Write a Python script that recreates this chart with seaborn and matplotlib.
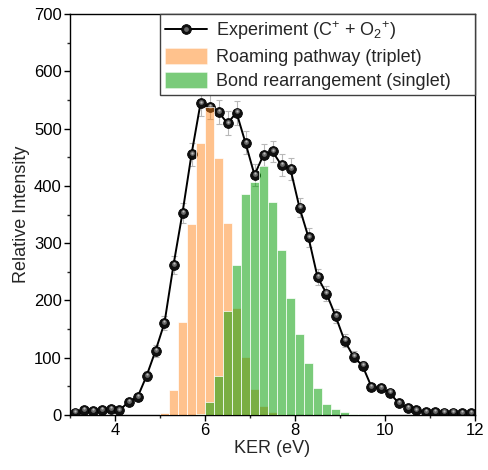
import numpy as np
import pandas as pd
import matplotlib
matplotlib.use("Agg")
import matplotlib.pyplot as plt
import matplotlib.transforms as mtransforms
from matplotlib.ticker import MultipleLocator
from matplotlib.patches import Patch
import seaborn as sns

# ---------------- data ----------------
ker_exp = np.round(np.arange(3.1, 12.0, 0.2), 1)
exp_counts = [4, 9, 7, 9, 10, 8, 23, 31, 68, 112,
              161, 262, 353, 455, 544, 538, 529, 509, 528, 475,
              419, 454, 460, 436, 429, 362, 310, 241, 212, 173,
              130, 102, 86, 49, 47, 39, 21, 12, 8, 5,
              5, 4, 4, 3, 3]
exp_err = [2, 3, 3, 3, 3, 3, 5, 6, 8, 10,
           12, 15, 17, 20, 22, 22, 21, 21, 21, 20,
           19, 19, 19, 19, 19, 17, 16, 14, 13, 12,
           11, 9, 8, 6, 6, 6, 4, 3, 3, 2,
           2, 2, 2, 2, 2]

bin_width = 0.2
roam_range = (5.0, 7.8)
roam_counts = [4, 44, 162, 333, 474, 538, 449, 336, 186, 101, 45, 15, 6, 2]

bond_range = (5.8, 10.0)
bond_counts = [2, 23, 68, 182, 262, 386, 407, 435, 372, 288, 205,
               141, 90, 48, 20, 10, 6, 2, 1.5, 1, 1]

x_ticks = [4, 6, 8, 10, 12]
y_ticks = [0, 100, 200, 300, 400, 500, 600, 700]

labels = ["Experiment (C$^{+}$ + O$_{2}$$^{+}$)",
          "Roaming pathway (triplet)",
          "Bond rearrangement (singlet)"]

# ---------------- style ----------------
sns.set_theme(style="ticks")
plt.rcParams["font.family"] = ["Liberation Sans", "DejaVu Sans"]
plt.rcParams["mathtext.fontset"] = "custom"
plt.rcParams["mathtext.rm"] = "Liberation Sans"
plt.rcParams["mathtext.it"] = "Liberation Sans:italic"
plt.rcParams["mathtext.bf"] = "Liberation Sans:bold"
plt.rcParams["mathtext.default"] = "regular"

fig = plt.figure(figsize=(4.88, 4.70), dpi=100)
ax = fig.add_axes([70 / 488, 55 / 470, 405 / 488, 401 / 470])

orange = "#ff7f0e"
green = "#009c00"
MS = 7

exp_df = pd.DataFrame({"KER": ker_exp, "counts": exp_counts, "err": exp_err})
roam_df = pd.DataFrame({
    "KER": roam_range[0] + bin_width * (np.arange(len(roam_counts)) + 0.5),
    "counts": roam_counts})
bond_df = pd.DataFrame({
    "KER": bond_range[0] + bin_width * (np.arange(len(bond_counts)) + 0.5),
    "counts": bond_counts})

# error bars
ax.errorbar(exp_df["KER"], exp_df["counts"], yerr=exp_df["err"], fmt="none",
            ecolor="#b8b8b8", elinewidth=0.8, capsize=2.5, capthick=0.8, zorder=1)

# experiment line with ball markers
sns.lineplot(data=exp_df, x="KER", y="counts", ax=ax, color="black", lw=1.4,
             marker="o", markersize=MS, markeredgecolor="black",
             markeredgewidth=0.6, markerfacecolor="#111111", zorder=2,
             legend=False)
shift = mtransforms.ScaledTranslation(0, 0.9 / 72, fig.dpi_scale_trans)
ax.plot(exp_df["KER"], exp_df["counts"], ls="none", marker="o", markersize=3.4,
        markerfacecolor="#6a6a6a", markeredgewidth=0, zorder=2.1,
        transform=ax.transData + shift)
shift2 = mtransforms.ScaledTranslation(0, 1.3 / 72, fig.dpi_scale_trans)
ax.plot(exp_df["KER"], exp_df["counts"], ls="none", marker="o", markersize=1.5,
        markerfacecolor="#bdbdbd", markeredgewidth=0, zorder=2.2,
        transform=ax.transData + shift2)

# histograms
sns.histplot(data=roam_df, x="KER", weights="counts", binwidth=bin_width,
             binrange=roam_range, ax=ax,
             color=orange, alpha=0.47, edgecolor="white", linewidth=0.5,
             zorder=3)
sns.histplot(data=bond_df, x="KER", weights="counts", binwidth=bin_width,
             binrange=bond_range, ax=ax,
             color=green, alpha=0.52, edgecolor="white", linewidth=0.5,
             zorder=3.1)

# axes
ax.set_xlim(3, 12)
ax.set_ylim(0, 700)
ax.set_xticks(x_ticks)
ax.set_yticks(y_ticks)
ax.xaxis.set_minor_locator(MultipleLocator(1))
ax.yaxis.set_minor_locator(MultipleLocator(50))
ax.tick_params(axis="both", which="major", direction="out", length=4, width=1,
               labelsize=12, colors="black", pad=2)
ax.tick_params(axis="both", which="minor", direction="out", length=2.2, width=1)
ax.tick_params(top=False, right=False, which="both")
for s in ax.spines.values():
    s.set_visible(True)
    s.set_color("black")
    s.set_linewidth(1.0)
ax.set_xlabel("KER (eV)", fontsize=13, labelpad=1)
ax.set_ylabel("Relative Intensity", fontsize=13, labelpad=3)

# legend
h_line = plt.Line2D([], [], color="black", lw=1.4, marker="o", markersize=MS,
                    markerfacecolor="#111111", markeredgecolor="black",
                    markeredgewidth=0.6)
h_hl = plt.Line2D([], [], ls="none", marker="o", markersize=3.4,
                  markerfacecolor="#6a6a6a", markeredgewidth=0)
h_roam = Patch(facecolor=orange, alpha=0.47, edgecolor="white", linewidth=0.5)
h_bond = Patch(facecolor=green, alpha=0.52, edgecolor="white", linewidth=0.5)
leg = ax.legend([(h_line, h_hl), h_roam, h_bond], labels,
                loc="upper left", bbox_to_anchor=(90 / 405, 1.0, 315 / 405, 0),
                mode="expand", borderaxespad=0, fontsize=13,
                handlelength=2.3, handleheight=0.95, handletextpad=0.5,
                labelspacing=0.35, borderpad=0.28, fancybox=False, framealpha=1)
leg.get_frame().set_edgecolor("#404040")
leg.get_frame().set_linewidth(1.0)
leg.set_zorder(5)

fig.savefig("out.png", dpi=100)
